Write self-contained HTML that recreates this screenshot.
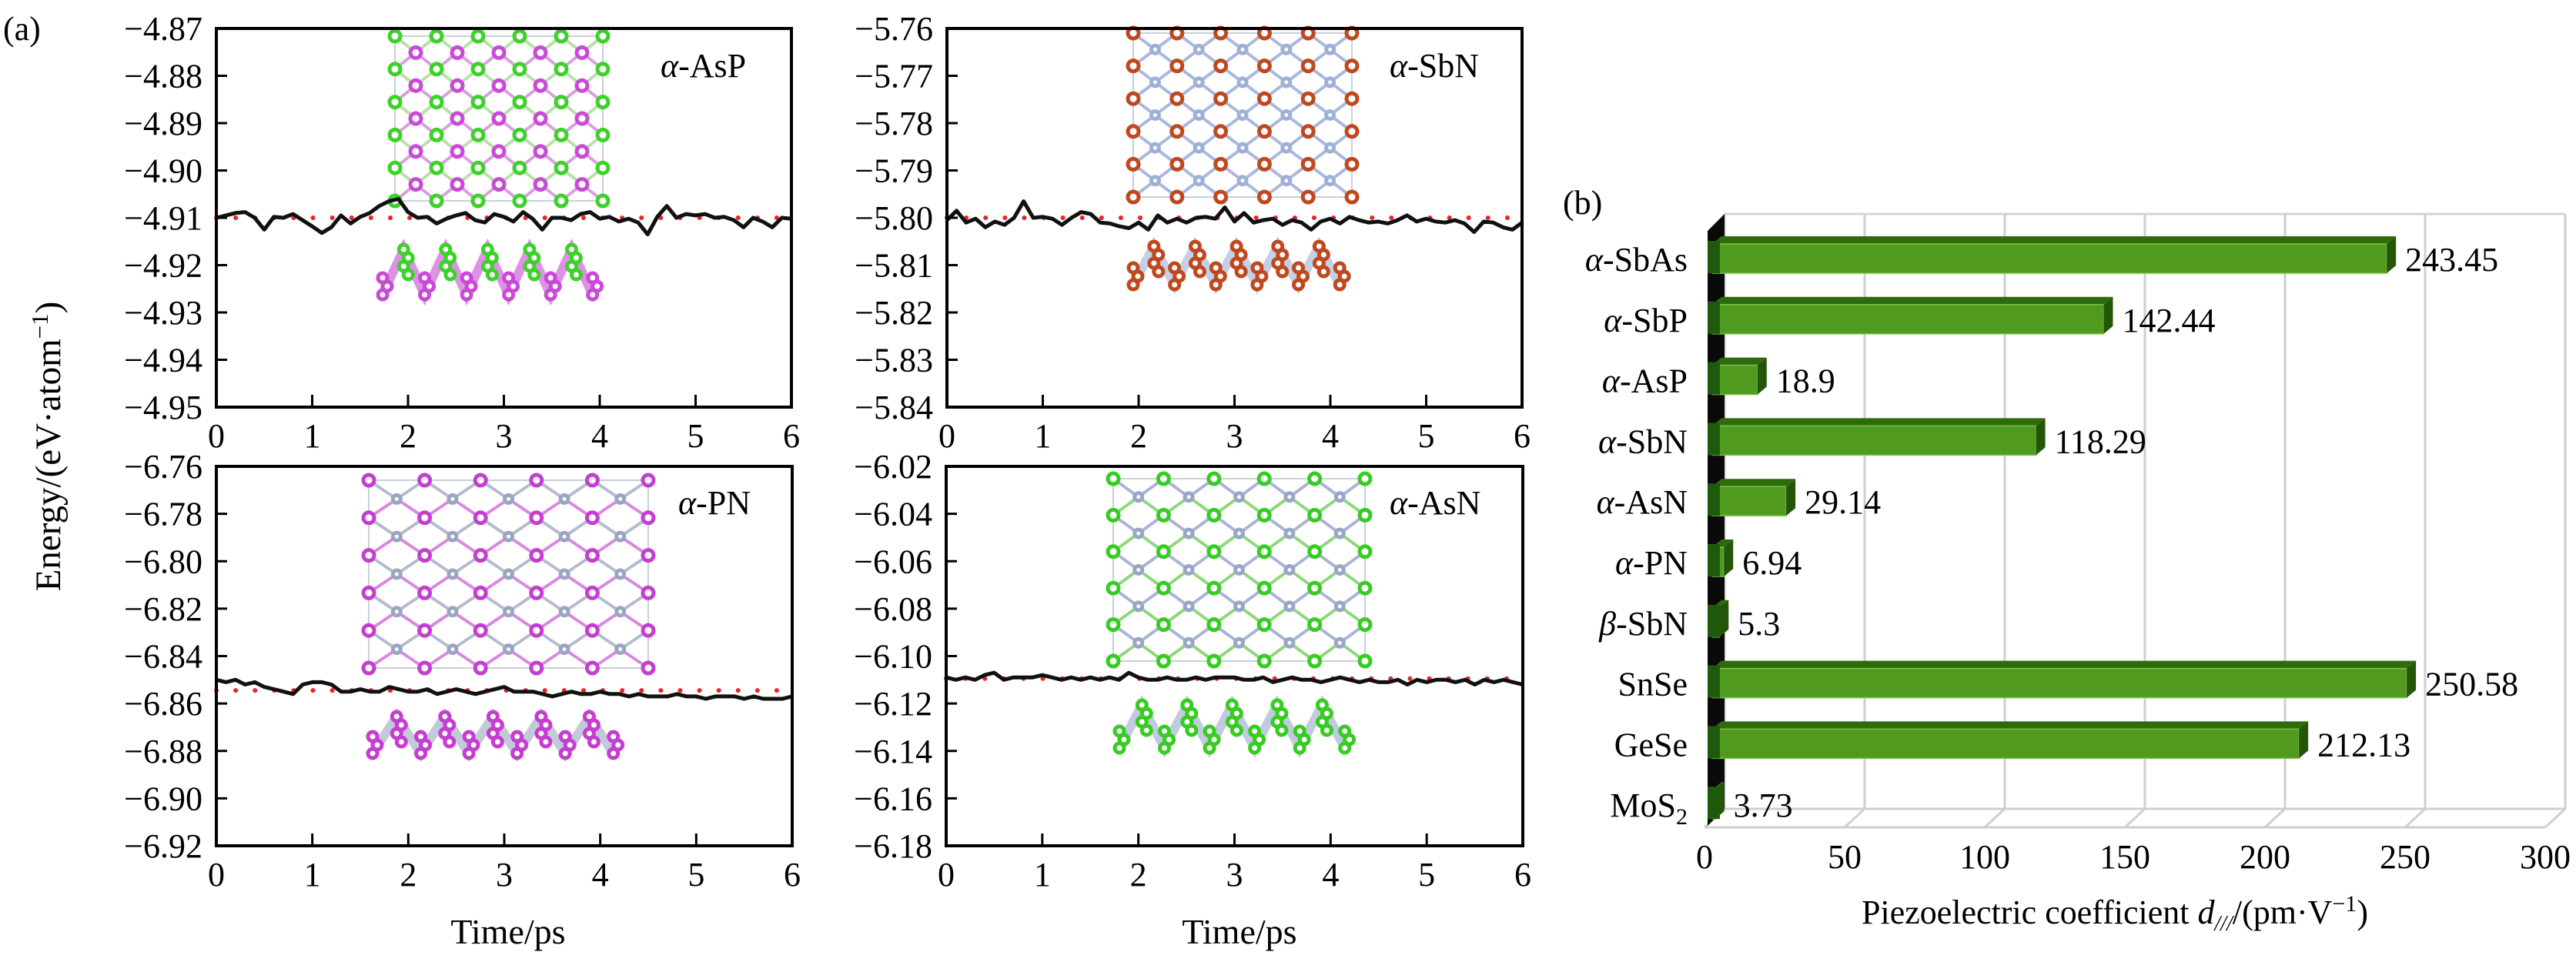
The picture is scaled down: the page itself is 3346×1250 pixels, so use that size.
<!DOCTYPE html>
<html><head><meta charset="utf-8"><style>
html,body{margin:0;padding:0;background:#fff;}
svg{display:block;font-family:"Liberation Serif",serif;}
</style></head><body>
<svg id="fig" width="3346" height="1250" viewBox="0 0 3346 1250" xmlns="http://www.w3.org/2000/svg">
<rect width="3346" height="1250" fill="#fff"/>
<text x="4" y="52" font-size="44">(a)</text>
<text x="2030" y="278" font-size="44">(b)</text>
<text transform="translate(78,580) rotate(-90)" text-anchor="middle" font-size="47">Energy/(eV·atom<tspan dy="-16" font-size="31">−1</tspan><tspan dy="16">)</tspan></text>
<text x="660" y="1226" text-anchor="middle" font-size="46">Time/ps</text>
<text x="1610" y="1226" text-anchor="middle" font-size="46">Time/ps</text>
<g id="plots"></g>
<g id="bars"></g>
</svg>
<script>
// ---- energy data (eV/atom), sampled every 0.1 ps ----
const timeMax = 6;
const asPEnergy = [-4.910,-4.9095,-4.909,-4.9088,-4.910,-4.9125,-4.9098,-4.910,-4.9092,-4.9105,-4.9118,-4.9132,-4.912,-4.9095,-4.9112,-4.9098,-4.909,-4.9075,-4.9065,-4.906,-4.9088,-4.910,-4.9098,-4.9112,-4.9102,-4.9095,-4.909,-4.9105,-4.911,-4.9092,-4.9098,-4.9108,-4.9088,-4.9102,-4.9125,-4.910,-4.910,-4.9105,-4.9092,-4.9088,-4.9102,-4.9098,-4.9108,-4.9102,-4.911,-4.9135,-4.9098,-4.9075,-4.9100,-4.9092,-4.9095,-4.9092,-4.9100,-4.9098,-4.9105,-4.9120,-4.9100,-4.9108,-4.9120,-4.9100,-4.9102];
const sbNEnergy = [-5.8005,-5.7985,-5.8010,-5.8002,-5.8020,-5.8008,-5.8015,-5.8000,-5.7965,-5.8000,-5.7998,-5.8002,-5.8015,-5.8000,-5.7988,-5.7992,-5.8010,-5.8012,-5.8018,-5.8022,-5.8010,-5.8025,-5.7995,-5.8010,-5.8002,-5.8010,-5.8000,-5.7998,-5.8002,-5.7978,-5.8008,-5.7990,-5.8010,-5.8005,-5.8002,-5.8015,-5.8005,-5.8010,-5.8025,-5.8008,-5.8002,-5.8012,-5.7998,-5.8005,-5.8010,-5.8008,-5.8012,-5.8005,-5.7995,-5.8008,-5.8002,-5.8008,-5.8010,-5.8005,-5.8012,-5.8030,-5.8008,-5.8010,-5.8020,-5.8025,-5.8010];
const pNEnergy = [-6.850,-6.851,-6.850,-6.852,-6.851,-6.853,-6.854,-6.855,-6.856,-6.852,-6.851,-6.851,-6.852,-6.855,-6.855,-6.854,-6.855,-6.855,-6.853,-6.854,-6.855,-6.855,-6.854,-6.856,-6.855,-6.854,-6.855,-6.856,-6.855,-6.854,-6.853,-6.855,-6.855,-6.855,-6.856,-6.857,-6.856,-6.855,-6.856,-6.856,-6.855,-6.856,-6.856,-6.857,-6.856,-6.857,-6.857,-6.857,-6.856,-6.857,-6.857,-6.858,-6.857,-6.857,-6.857,-6.858,-6.857,-6.858,-6.858,-6.858,-6.857];
const asNEnergy = [-6.109,-6.110,-6.109,-6.110,-6.108,-6.107,-6.110,-6.109,-6.109,-6.109,-6.108,-6.109,-6.110,-6.109,-6.110,-6.109,-6.110,-6.109,-6.110,-6.107,-6.109,-6.110,-6.110,-6.109,-6.110,-6.110,-6.109,-6.110,-6.109,-6.109,-6.109,-6.110,-6.110,-6.109,-6.111,-6.110,-6.109,-6.110,-6.110,-6.111,-6.110,-6.109,-6.110,-6.111,-6.110,-6.111,-6.111,-6.110,-6.112,-6.110,-6.111,-6.110,-6.110,-6.111,-6.110,-6.112,-6.110,-6.111,-6.110,-6.111,-6.112];
const asPMean = [-4.910,-4.910];
const sbNMean = [-5.800,-5.800];
const pNMean = [-6.8545,-6.8545];
const asNMean = [-6.1095,-6.1095];
const asPTicks = [-4.87,-4.88,-4.89,-4.90,-4.91,-4.92,-4.93,-4.94,-4.95];
const sbNTicks = [-5.76,-5.77,-5.78,-5.79,-5.80,-5.81,-5.82,-5.83,-5.84];
const pNTicks = [-6.76,-6.78,-6.80,-6.82,-6.84,-6.86,-6.88,-6.90,-6.92];
const asNTicks = [-6.02,-6.04,-6.06,-6.08,-6.10,-6.12,-6.14,-6.16,-6.18];
const timeTicks = [0,1,2,3,4,5,6];

// ---- bar data ----
const materials = ['α-SbAs','α-SbP','α-AsP','α-SbN','α-AsN','α-PN','β-SbN','SnSe','GeSe','MoS2'];
const coefficients = [243.45,142.44,18.9,118.29,29.14,6.94,5.3,250.58,212.13,3.73];
const coefLabels = ['243.45','142.44','18.9','118.29','29.14','6.94','5.3','250.58','212.13','3.73'];
const coefTicks = [0,50,100,150,200,250,300];

const NS='http://www.w3.org/2000/svg';
function mk(tag, attrs, parent){const e=document.createElementNS(NS,tag);for(const k in attrs)e.setAttribute(k,attrs[k]);parent.appendChild(e);return e;}
const plots=document.getElementById('plots');

const panels=[
 {key:'asp',x0:281,x1:1028,y0:37,y1:529,ticks:asPTicks,data:asPEnergy,mean:asPMean,label:'AsP',lx:858,ly:100,
  inset:{bx0:513,bx1:783,by0:47,by1:261,sx0:497,sx1:797,sy0:316,sy1:391,a:'#3ed12a',b:'#c84ad6',bond:'#b8e0a8',bond2:'#d9a0e0',bothBig:true}},
 {key:'sbn',x0:1230,x1:1977,y0:37,y1:529,ticks:sbNTicks,data:sbNEnergy,mean:sbNMean,label:'SbN',lx:1805,ly:100,
  inset:{bx0:1472,bx1:1756,by0:43,by1:256,sx0:1472,sx1:1767,sy0:312,sy1:378,a:'#c0481e',b:'#9fb0d6',bond:'#a9b8dc',bond2:'#a9b8dc'}},
 {key:'pn',x0:281,x1:1029,y0:606,y1:1099,ticks:pNTicks,data:pNEnergy,mean:pNMean,label:'PN',lx:881,ly:668,
  inset:{bx0:479,bx1:842,by0:624,by1:868,sx0:484,sx1:828,sy0:923,sy1:987,a:'#c43fd0',b:'#9aa6c0',bond:'#b5bcd0',bond2:'#d88ae0'}},
 {key:'asn',x0:1229,x1:1978,y0:606,y1:1099,ticks:asNTicks,data:asNEnergy,mean:asNMean,label:'AsN',lx:1805,ly:668,
  inset:{bx0:1446,bx1:1773,by0:622,by1:859,sx0:1454,sx1:1776,sy0:908,sy1:980,a:'#36cc22',b:'#9aa6c8',bond:'#aab4d4',bond2:'#8fd87a'}}
];

function drawInset(g,p,ins){
  mk('rect',{x:ins.bx0,y:ins.by0,width:ins.bx1-ins.bx0,height:ins.by1-ins.by0,fill:'none',stroke:'#c8d0d8','stroke-width':2},g);
  const cols=10, rows=10;
  const dx=(ins.bx1-ins.bx0)/cols, dy=(ins.by1-ins.by0)/rows;
  const pts=[];
  for(let r=0;r<=rows;r++)for(let c=0;c<=cols;c++){if((c+r)%2===0)pts.push([c,r]);}
  const bg=mk('g',{},g);
  
  
  pts.forEach(([c,r])=>{
    const x=ins.bx0+c*dx,y=ins.by0+r*dy;
    if(c<cols&&r<rows)mk('line',{x1:x,y1:y,x2:x+dx,y2:y+dy,stroke:(r%2?ins.bond2:ins.bond),'stroke-width':4},bg);
    if(c<cols&&r>0)mk('line',{x1:x,y1:y,x2:x+dx,y2:y-dy,stroke:(r%2?ins.bond:ins.bond2),'stroke-width':4},bg);
  });
  pts.forEach(([c,r])=>{
    const x=ins.bx0+c*dx,y=ins.by0+r*dy;
    const isA=(r%2===0);
    const col=isA?ins.a:ins.b;
    const rad=(isA||ins.bothBig)?7:5;
    const at=mk('circle',{cx:x,cy:y,r:rad,fill:'#fff',stroke:col,'stroke-width':5},g);
    
    
  });
  // side view zigzag
  const n=5, w=(ins.sx1-ins.sx0)/(n+0.5), top=ins.sy0+8, bot=ins.sy1-8;
  let d='M'+ins.sx0+','+bot;
  for(let i=0;i<n;i++){const x=ins.sx0+i*w;d+=' L'+(x+w*0.5)+','+top+' L'+(x+w)+','+bot;}
  const z=mk('path',{d:d,fill:'none',stroke:ins.b,'stroke-width':12,opacity:0.6},g);
  
  
  for(let i=0;i<n;i++){
    const xp=ins.sx0+i*w+w*0.5;
    for(let k=0;k<4;k++){
      const c1=mk('circle',{cx:xp+(k%2)*6,cy:top+k*11,r:6,fill:'#fff',stroke:ins.a,'stroke-width':5},g);
      
      
    }
  }
  for(let i=0;i<=n;i++){
    const xb=ins.sx0+i*w;
    for(let k=0;k<3;k++){
      const c2=mk('circle',{cx:xb+(k%2)*6,cy:bot-k*11,r:6,fill:'#fff',stroke:(ins.bothBig?ins.b:ins.a),'stroke-width':5},g);
      
      
    }
  }
}

panels.forEach(p=>{
  const g=mk('g',{},plots);
  
  
  const ymax=p.ticks[0], ymin=p.ticks[p.ticks.length-1];
  const X=t=>p.x0+(t/timeMax)*(p.x1-p.x0);
  const Y=v=>p.y0+(ymax-v)/(ymax-ymin)*(p.y1-p.y0);
  drawInset(g,p,p.inset);
  const m=mk('line',{x1:X(0),y1:Y(p.mean[0]),x2:X(timeMax),y2:Y(p.mean[1]),stroke:'#e8262a','stroke-width':6,'stroke-dasharray':'0.1 25','stroke-linecap':'round'},g);
  
  
  const n=p.data.length;
  const pts=p.data.map((v,i)=>X(i*timeMax/(n-1)).toFixed(1)+','+Y(v).toFixed(1)).join(' ');
  const l=mk('polyline',{points:pts,fill:'none',stroke:'#111','stroke-width':5,'stroke-linejoin':'round'},g);
  
  
  const f=mk('rect',{x:p.x0,y:p.y0,width:p.x1-p.x0,height:p.y1-p.y0,fill:'none',stroke:'#000','stroke-width':4},g);
  
  
  p.ticks.forEach(v=>{
    const y=Y(v);
    mk('line',{x1:p.x0,y1:y,x2:p.x0+14,y2:y,stroke:'#000','stroke-width':3},g);
    const t=mk('text',{x:p.x0-18,y:y+15,'text-anchor':'end','font-size':44},g);
    t.textContent='−'+Math.abs(v).toFixed(2);
    
    
  });
  timeTicks.forEach(v=>{
    const x=X(v);
    if(v>0&&v<timeMax)mk('line',{x1:x,y1:p.y1,x2:x,y2:p.y1-16,stroke:'#000','stroke-width':3},g);
    const t=mk('text',{x:x,y:p.y1+52,'text-anchor':'middle','font-size':44},g);
    t.textContent=v;
    
    
  });
  const lb=mk('text',{x:p.lx,y:p.ly,'font-size':44},g);
  lb.innerHTML='<tspan font-style="italic">α</tspan>-'+p.label;
  
  
});

// ---- 3D bar chart ----
const bars=document.getElementById('bars');
const fx0=2214, fu=3.64, depthX=26, depthY=24;
const floorY=1075, wallTop=278, row0=336, rowStep=78.8;
const FX=v=>fx0+v*fu;
const RY=i=>row0+i*rowStep;
const wall=mk('g',{},bars);


mk('line',{x1:FX(0)+depthX,y1:wallTop,x2:FX(300)+depthX,y2:wallTop,stroke:'#d4d4d4','stroke-width':3},wall);
coefTicks.forEach(v=>{
  const x=FX(v);
  mk('line',{x1:x+depthX,y1:wallTop,x2:x+depthX,y2:floorY-depthY,stroke:'#cfcfcf','stroke-width':3},wall);
  mk('line',{x1:x+depthX,y1:floorY-depthY,x2:x,y2:floorY,stroke:'#cfcfcf','stroke-width':3},wall);
  const t=mk('text',{x:x,y:1128,'text-anchor':'middle','font-size':44},wall);
  t.textContent=v;
  
  
});
mk('line',{x1:FX(0)+depthX,y1:floorY-depthY,x2:FX(300)+depthX,y2:floorY-depthY,stroke:'#cfcfcf','stroke-width':3},wall);
mk('line',{x1:FX(0),y1:floorY,x2:FX(300),y2:floorY,stroke:'#cfcfcf','stroke-width':3},wall);
const slab=mk('path',{d:`M${FX(0)+4},${wallTop+22} L${FX(0)+depthX},${wallTop} L${FX(0)+depthX},${floorY-depthY} L${FX(0)+4},${floorY-2} Z`,fill:'#0a0a0a'},bars);


const bh=38, th=10, sd=12;
materials.forEach((name,i)=>{
  const g=mk('g',{},bars);
  
  
  const yc=RY(i), yt=yc-bh/2, xe=FX(coefficients[i]), xs=FX(0)+10;
  mk('path',{d:`M${xs},${yt} L${xs+sd},${yt-th} L${xe+sd},${yt-th} L${xe},${yt} Z`,fill:'#2f6b0c'},g);
  mk('rect',{x:xs,y:yt,width:Math.max(xe-xs,2),height:bh,fill:'#4f9a1f',stroke:'#7cc24a','stroke-width':1.5},g);
  mk('path',{d:`M${xe},${yt} L${xe+sd},${yt-th} L${xe+sd},${yt+bh-th} L${xe},${yt+bh} Z`,fill:'#24560a'},g);
  mk('rect',{x:xs-6,y:yt-4,width:16,height:bh+4,fill:'#1f5a0c'},g);
  const v=mk('text',{x:xe+sd+12,y:yc+16,'font-size':44},g);
  v.textContent=coefLabels[i];
  
  
  const c=mk('text',{x:2192,y:yc+16,'text-anchor':'end','font-size':44},g);
  if(name==='MoS2'){c.innerHTML='MoS<tspan font-size="30" dy="10">2</tspan>';}
  else if(name[0]==='α'||name[0]==='β'){c.innerHTML='<tspan font-style="italic">'+name[0]+'</tspan>'+name.slice(1);}
  else{c.textContent=name;}
  
  
});
const xt=mk('text',{x:2747,y:1200,'text-anchor':'middle','font-size':44},bars);
xt.innerHTML='Piezoelectric coefficient <tspan font-style="italic">d</tspan><tspan font-size="28" dy="9" font-style="italic">///</tspan><tspan dy="-9">/(pm·V</tspan><tspan font-size="30" dy="-16">−1</tspan><tspan dy="16">)</tspan>';


</script>
</body></html>
